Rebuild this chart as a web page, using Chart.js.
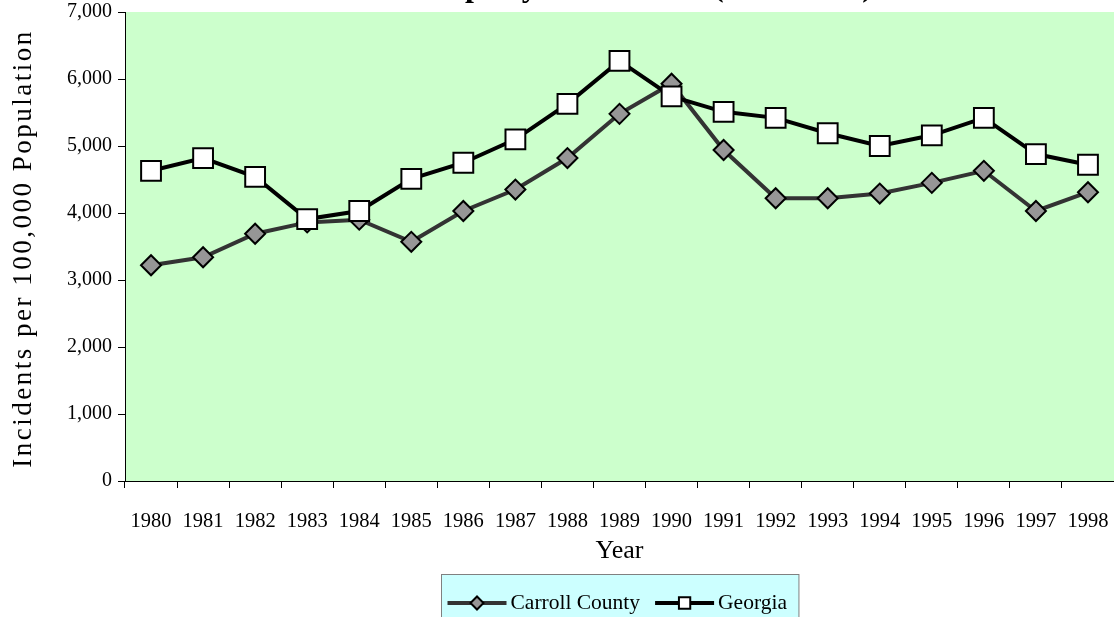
<!DOCTYPE html>
<html>
<head>
<meta charset="utf-8">
<script src="https://cdn.jsdelivr.net/npm/chart.js@4/dist/chart.umd.min.js"></script>
<style>
  body { margin: 0; background: #fff; }
</style>
</head>
<body>
<canvas id="myChart" width="1114" height="617"></canvas>
<script>
var years = ['1980', '1981', '1982', '1983', '1984', '1985', '1986', '1987', '1988', '1989',
             '1990', '1991', '1992', '1993', '1994', '1995', '1996', '1997', '1998'];
var carroll = [3220, 3340, 3690, 3860, 3900, 3570, 4030, 4350, 4820, 5480,
               5930, 4940, 4220, 4220, 4290, 4450, 4630, 4030, 4310];
var georgia = [4630, 4820, 4540, 3910, 4030, 4510, 4750, 5100, 5630, 6270,
               5740, 5510, 5420, 5190, 5000, 5160, 5420, 4880, 4720];
var yTicks = [0, 1000, 2000, 3000, 4000, 5000, 6000, 7000];
var chartTitle = 'Property Crime Rate (1980-1998)';
var yTitle = 'Incidents per 100,000 Population';

var serif = '"Liberation Serif", "Times New Roman", serif';

// 背景色、上で切れたタイトル、縦軸タイトル
var plotBackground = {
    id: 'plotBackground',
    beforeDraw: function (chart) {
        var a = chart.chartArea, ctx = chart.ctx;
        ctx.save();
        ctx.fillStyle = '#ccffcc';
        ctx.fillRect(a.left, a.top, a.right - a.left, a.bottom - a.top);
        ctx.fillStyle = '#000';
        ctx.font = 'bold 32px ' + serif;
        ctx.textAlign = 'left';
        ctx.textBaseline = 'alphabetic';
        ctx.fillText(chartTitle, 467 - ctx.measureText('Pro').width - 2, -4);
        ctx.restore();
    },
    afterDraw: function (chart) {
        var a = chart.chartArea, ctx = chart.ctx;
        ctx.save();
        ctx.fillStyle = '#000';
        ctx.font = '27px ' + serif;
        ctx.letterSpacing = '2.5px';
        ctx.textAlign = 'center';
        ctx.textBaseline = 'middle';
        ctx.translate(24, (a.top + a.bottom) / 2 + 2);
        ctx.rotate(-Math.PI / 2);
        ctx.fillText(yTitle, 0, 0);
        ctx.restore();
    }
};

// 凡例（水色の枠）
var boxLegend = {
    id: 'boxLegend',
    afterDraw: function (chart) {
        var ctx = chart.ctx, a = chart.chartArea;
        var sets = chart.data.datasets;
        ctx.save();
        ctx.font = '21.5px ' + serif;
        var lineLen = 59, gap = 4, between = 15, padL = 6, padR = 12;
        var total = padL + padR;
        sets.forEach(function (d, i) {
            total += lineLen + gap + ctx.measureText(d.label).width;
            if (i > 0) total += between;
        });
        var x = Math.round((a.left + a.right) / 2 - total / 2) + 0.5;
        var top = 574.5, cy = 603;
        ctx.fillStyle = '#ccffff';
        ctx.fillRect(x, top, total, 60);
        ctx.strokeStyle = '#808080';
        ctx.lineWidth = 1;
        ctx.strokeRect(x, top, total, 60);
        var cx = x + padL;
        sets.forEach(function (d) {
            ctx.strokeStyle = d.borderColor;
            ctx.lineWidth = 4;
            ctx.beginPath();
            ctx.moveTo(cx, cy);
            ctx.lineTo(cx + lineLen, cy);
            ctx.stroke();
            ctx.fillStyle = d.pointBackgroundColor;
            ctx.strokeStyle = '#000';
            ctx.lineWidth = 2;
            Chart.helpers.drawPoint(ctx, {
                pointStyle: d.pointStyle,
                radius: d.pointStyle === 'rect' ? 8 : 6.5,
                rotation: 0,
                borderWidth: 2
            }, cx + lineLen / 2, cy);
            ctx.fillStyle = '#000';
            ctx.textAlign = 'left';
            ctx.textBaseline = 'middle';
            ctx.fillText(d.label, cx + lineLen + gap, cy);
            cx += lineLen + gap + ctx.measureText(d.label).width + between;
        });
        ctx.restore();
    }
};

var ctx = document.getElementById('myChart').getContext('2d');
var myChart = new Chart(ctx, {
    type: 'line',
    data: {
        labels: years,
        datasets: [{
            label: 'Carroll County',
            data: carroll,
            borderColor: '#333333',
            borderWidth: 4,
            pointStyle: 'rectRot',
            pointRadius: 10,
            pointBackgroundColor: '#969696',
            pointBorderColor: '#000000',
            pointBorderWidth: 2,
            tension: 0,
            order: 2
        }, {
            label: 'Georgia',
            data: georgia,
            borderColor: '#000000',
            borderWidth: 4,
            pointStyle: 'rect',
            pointRadius: 14,
            pointBackgroundColor: '#ffffff',
            pointBorderColor: '#000000',
            pointBorderWidth: 2,
            tension: 0,
            order: 1
        }]
    },
    options: {
        responsive: false,
        animation: false,
        layout: { autoPadding: false, padding: { top: 12, right: 0, bottom: 50, left: 0 } },
        plugins: {
            legend: { display: false },
            tooltip: { enabled: false }
        },
        scales: {
            x: {
                offset: true,
                grid: { display: true, offset: true, drawOnChartArea: false, tickLength: 7, color: '#000' },
                border: { display: true, color: '#000', width: 1 },
                ticks: { color: '#000', font: { family: serif, size: 20.5 }, padding: 21, maxRotation: 0 },
                title: { display: true, text: 'Year', color: '#000', font: { family: serif, size: 26 }, padding: { top: 0, bottom: 0 } },
                afterFit: function (scale) {
                    scale.height = 86;
                    scale.paddingLeft = 0;
                    scale.paddingRight = 0;
                }
            },
            y: {
                min: 0,
                max: 7000,
                afterBuildTicks: function (scale) {
                    scale.ticks = yTicks.map(function (v) { return { value: v }; });
                },
                grid: { display: true, drawOnChartArea: false, tickLength: 7, color: '#000' },
                border: { display: true, color: '#000', width: 1 },
                ticks: {
                    color: '#000',
                    font: { family: serif, size: 20 },
                    padding: 6,
                    callback: function (v) { return v.toLocaleString('en-US'); }
                },
                title: { display: false },
                afterFit: function (scale) {
                    scale.width = 125;
                    scale.paddingTop = 0;
                    scale.paddingBottom = 0;
                }
            }
        }
    },
    plugins: [plotBackground, boxLegend]
});
</script>
</body>
</html>
